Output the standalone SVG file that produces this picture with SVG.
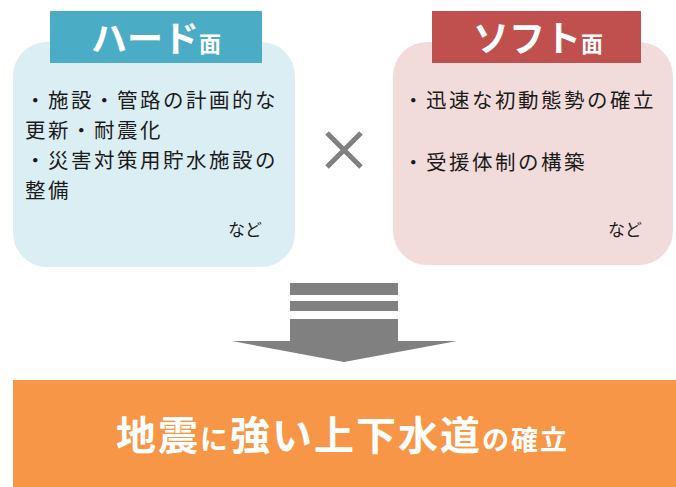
<svg xmlns="http://www.w3.org/2000/svg" width="676" height="487" viewBox="0 0 676 487">
<style>
.t{font-family:"Noto Sans CJK JP","Noto Sans CJK SC",sans-serif;}
.body{font-size:20.5px;letter-spacing:2.5px;fill:#1a1a1a;}
.etc{font-size:17px;fill:#1a1a1a;}
.hd{fill:#ffffff;font-weight:bold;}
.gray{fill:#808080;}
</style>
<rect width="676" height="487" fill="#ffffff"/>
<g id="hard">
<rect x="13" y="42" width="282" height="225" rx="34" ry="34" fill="#DBEEF4"/>
<rect x="50" y="11" width="212" height="52" fill="#4BACC6"/>
<text class="t hd" x="156" y="52" text-anchor="middle"><tspan font-size="36">ハード</tspan><tspan font-size="22">面</tspan></text>
<text class="t body" x="25" y="108">・施設・管路の計画的な</text>
<text class="t body" x="25" y="138">更新・耐震化</text>
<text class="t body" x="25" y="168">・災害対策用貯水施設の</text>
<text class="t body" x="25" y="198">整備</text>
<text class="t etc" x="228" y="236">など</text>
</g>
<g id="soft">
<rect x="393" y="42" width="280" height="223" rx="34" ry="34" fill="#F2DCDB"/>
<rect x="432" y="11" width="209" height="52" fill="#C0504D"/>
<text class="t hd" x="538" y="52" text-anchor="middle"><tspan font-size="36">ソフト</tspan><tspan font-size="22">面</tspan></text>
<text class="t body" x="403" y="108">・迅速な初動態勢の確立</text>
<text class="t body" x="403" y="170">・受援体制の構築</text>
<text class="t etc" x="608" y="236">など</text>
</g>
<g id="times">
<path d="M327 133 L361 167 M361 133 L327 167" stroke="#808080" stroke-width="5" fill="none"/>
</g>
<g id="connectors">
<rect class="gray" x="290" y="283" width="108" height="12"/>
<rect class="gray" x="290" y="301" width="108" height="10"/>
<path class="gray" d="M290 319 H398 V341 H457 L344 362 L232 341 H290 Z"/>
</g>
<g id="result">
<rect x="13" y="380" width="663" height="107" fill="#F79646"/>
<text class="t hd" x="116" y="450"><tspan font-size="40" letter-spacing="2">地震</tspan><tspan font-size="28" letter-spacing="2">に</tspan><tspan font-size="40" letter-spacing="2">強い上下水道</tspan><tspan font-size="27" letter-spacing="2">の確立</tspan></text>
</g>
</svg>
